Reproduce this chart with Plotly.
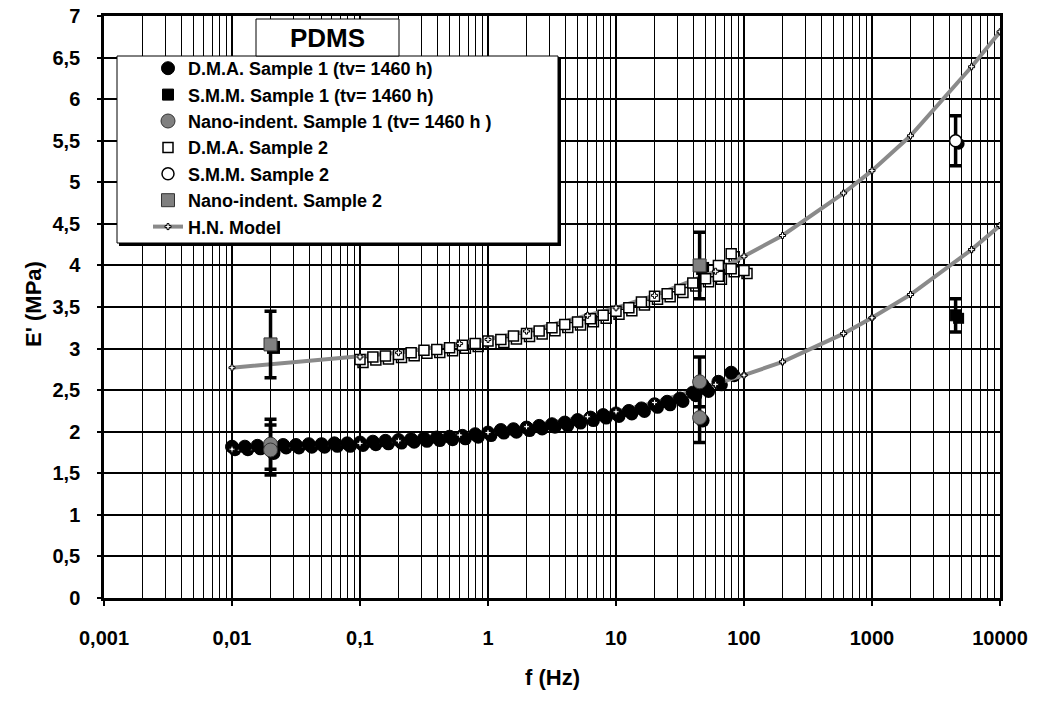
import plotly.graph_objects as go

# ---------------- data ----------------
# D.M.A. sample 1 (tv = 1460 h)
freq_dma1 = [0.01, 0.0126, 0.0158, 0.02, 0.0251, 0.0316, 0.0398, 0.0501, 0.0631, 0.0794,
             0.1, 0.126, 0.158, 0.2, 0.251, 0.316, 0.398, 0.501, 0.631, 0.794,
             1, 1.26, 1.58, 2, 2.51, 3.16, 3.98, 5.01, 6.31, 7.94,
             10, 12.6, 15.8, 20, 25.1, 31.6, 39.8, 50.1, 63.1, 79.4]
E_dma1 = [1.82, 1.82, 1.83, 1.83, 1.84, 1.84, 1.85, 1.85, 1.86, 1.86,
          1.87, 1.88, 1.89, 1.90, 1.91, 1.92, 1.93, 1.94, 1.95, 1.97,
          1.99, 2.02, 2.03, 2.05, 2.07, 2.09, 2.11, 2.14, 2.17, 2.20,
          2.22, 2.25, 2.28, 2.33, 2.36, 2.40, 2.47, 2.52, 2.60, 2.71]

# D.M.A. sample 2
freq_dma2 = [0.1, 0.126, 0.158, 0.2, 0.251, 0.316, 0.398, 0.501, 0.631, 0.794,
             1, 1.26, 1.58, 2, 2.51, 3.16, 3.98, 5.01, 6.31, 7.94,
             10, 12.6, 15.8, 20, 25.1, 31.6, 39.8, 50.1, 63.1, 79.4,
             100, 63.1, 79.4]
E_dma2 = [2.87, 2.90, 2.91, 2.93, 2.95, 2.98, 2.99, 3.01, 3.04, 3.06,
          3.09, 3.11, 3.15, 3.18, 3.21, 3.25, 3.29, 3.32, 3.36, 3.40,
          3.45, 3.49, 3.56, 3.63, 3.66, 3.71, 3.79, 3.84, 3.87, 3.96,
          3.94, 4.00, 4.14]

# S.M.M.
freq_smm1 = [4500]
E_smm1 = [3.40]
err_smm1 = [0.2]
freq_smm2 = [4500]
E_smm2 = [5.50]
err_smm2 = [0.3]

# Nano-indentation
freq_nano1 = [0.02, 0.02, 45, 45]
E_nano1 = [1.85, 1.78, 2.60, 2.17]
err_nano1 = [0.3, 0.3, 0.3, 0.3]
freq_nano2 = [0.02, 45]
E_nano2 = [3.05, 4.00]
err_nano2 = [0.4, 0.4]

# Havriliak-Negami model
freq_hn = [0.01, 0.1, 0.2, 0.6, 1, 2, 6, 10, 20, 60, 100, 200, 600, 1000, 2000, 6000, 10000]
E_hn_s1 = [1.79, 1.86, 1.89, 1.96, 1.99, 2.06, 2.18, 2.24, 2.35, 2.57, 2.68, 2.84, 3.18, 3.37, 3.65, 4.19, 4.48]
E_hn_s2 = [2.77, 2.90, 2.95, 3.06, 3.11, 3.21, 3.40, 3.49, 3.64, 3.93, 4.11, 4.36, 4.87, 5.14, 5.56, 6.39, 6.81]

# axis ticks
x_tickvals = [0.001, 0.01, 0.1, 1, 10, 100, 1000, 10000]
x_ticktext = ["0,001", "0,01", "0,1", "1", "10", "100", "1000", "10000"]
y_tickvals = [0, 0.5, 1, 1.5, 2, 2.5, 3, 3.5, 4, 4.5, 5, 5.5, 6, 6.5, 7]
y_ticktext = ["0", "0,5", "1", "1,5", "2", "2,5", "3", "3,5", "4", "4,5", "5", "5,5", "6", "6,5", "7"]

# ---------------- geometry ----------------
W, H = 1042, 702
ML, MT = 104, 16
PW, PH = 896, 582          # plot area in px
SH = 3                     # marker shadow offset in px
PAPER_W, PAPER_H = PW + SH, PH + SH

FONT = "Liberation Sans, Arial, sans-serif"
GRAY = "#8a8a8a"
NANO = "#808080"

fig = go.Figure()

# drop shadows under the markers, drawn on a copy of the axes shifted by SH px
shadow_sets = [
    (freq_dma1, E_dma1, "circle", 13, "black", 0),
    (freq_dma2, E_dma2, "square", 10, "white", 1.5),
    (freq_nano1, E_nano1, "circle", 14, "black", 0),
    (freq_nano2, E_nano2, "square", 13, "black", 0),
    (freq_smm1, E_smm1, "square", 11, "black", 0),
    (freq_smm2, E_smm2, "circle", 12, "black", 0),
]
for fx, fy, sym, size, fill, lw in shadow_sets:
    fig.add_trace(go.Scatter(
        x=fx, y=fy, mode="markers", xaxis="x", yaxis="y", showlegend=False,
        hoverinfo="skip",
        marker=dict(symbol=sym, size=size, color=fill, line=dict(color="black", width=lw)),
    ))

def err(arr):
    return dict(type="data", array=arr, visible=True, color="black", thickness=3.5, width=6)

# model curves (line underneath the markers)
fig.add_trace(go.Scatter(
    x=freq_hn, y=E_hn_s1, mode="lines+markers", name="H.N. Model", legendrank=7,
    xaxis="x2", yaxis="y2", line=dict(color=GRAY, width=4),
    marker=dict(symbol="cross", size=5, color="white", line=dict(color="black", width=1)),
))
fig.add_trace(go.Scatter(
    x=freq_hn, y=E_hn_s2, mode="lines", showlegend=False,
    xaxis="x2", yaxis="y2", line=dict(color=GRAY, width=4),
))

fig.add_trace(go.Scatter(
    x=freq_dma1, y=E_dma1, mode="markers", name="D.M.A. Sample 1 (tv= 1460 h)", legendrank=1,
    xaxis="x2", yaxis="y2",
    marker=dict(symbol="circle", size=13, color="black", line=dict(color="black", width=1)),
))
fig.add_trace(go.Scatter(
    x=freq_smm1, y=E_smm1, mode="markers", name="S.M.M. Sample 1 (tv= 1460 h)", legendrank=2,
    xaxis="x2", yaxis="y2", error_y=err(err_smm1),
    marker=dict(symbol="square", size=11, color="black", line=dict(color="black", width=1)),
))
fig.add_trace(go.Scatter(
    x=freq_nano1, y=E_nano1, mode="markers", name="Nano-indent. Sample 1 (tv= 1460 h )", legendrank=3,
    xaxis="x2", yaxis="y2", error_y=err(err_nano1),
    marker=dict(symbol="circle", size=14, color=NANO, line=dict(color="#333333", width=1)),
))
fig.add_trace(go.Scatter(
    x=freq_dma2, y=E_dma2, mode="markers", name="D.M.A. Sample 2", legendrank=4,
    xaxis="x2", yaxis="y2",
    marker=dict(symbol="square", size=10, color="white", line=dict(color="black", width=1.5)),
))
fig.add_trace(go.Scatter(
    x=freq_smm2, y=E_smm2, mode="markers", name="S.M.M. Sample 2", legendrank=5,
    xaxis="x2", yaxis="y2", error_y=err(err_smm2),
    marker=dict(symbol="circle", size=12, color="white", line=dict(color="black", width=1.5)),
))
fig.add_trace(go.Scatter(
    x=freq_nano2, y=E_nano2, mode="markers", name="Nano-indent. Sample 2", legendrank=6,
    xaxis="x2", yaxis="y2", error_y=err(err_nano2),
    marker=dict(symbol="square", size=13, color=NANO, line=dict(color="#333333", width=1)),
))

# model evaluation points on top of everything
for ev in (E_hn_s1, E_hn_s2):
    fig.add_trace(go.Scatter(
        x=freq_hn, y=ev, mode="markers", showlegend=False, hoverinfo="skip",
        xaxis="x2", yaxis="y2",
        marker=dict(symbol="cross", size=5, color="white", line=dict(color="black", width=1)),
    ))

tickfont = dict(family=FONT, size=20, color="black", weight="bold")

fig.update_layout(
    width=W, height=H,
    margin=dict(l=ML, r=W - ML - PAPER_W, t=MT, b=H - MT - PAPER_H, autoexpand=False),
    paper_bgcolor="white", plot_bgcolor="rgba(0,0,0,0)",
    showlegend=True,
    xaxis=dict(type="log", range=[-3, 4], domain=[SH / PAPER_W, 1], anchor="y", visible=False),
    yaxis=dict(range=[0, 7], domain=[0, PH / PAPER_H], anchor="x", visible=False),
    xaxis2=dict(
        type="log", range=[-3, 4], domain=[0, PW / PAPER_W], anchor="y2",
        tickmode="array", tickvals=x_tickvals, ticktext=x_ticktext,
        showgrid=True, gridcolor="black", gridwidth=2,
        minor=dict(dtick="D1", showgrid=True, gridcolor="black", gridwidth=1, ticks=""),
        ticks="outside", ticklen=5, tickwidth=2, tickcolor="black",
        showline=True, linecolor="black", linewidth=2.5, mirror=True,
        tickfont=tickfont, ticklabelstandoff=15, zeroline=False,
    ),
    yaxis2=dict(
        range=[0, 7], domain=[SH / PAPER_H, 1], anchor="x2",
        tickmode="array", tickvals=y_tickvals, ticktext=y_ticktext,
        showgrid=True, gridcolor="black", gridwidth=1.5,
        ticks="outside", ticklen=4, tickwidth=1.5, tickcolor="black",
        showline=True, linecolor="black", linewidth=2.5, mirror=True,
        tickfont=tickfont, ticklabelstandoff=13, zeroline=False,
    ),
    legend=dict(
        x=(148 - ML) / PAPER_W, y=1 - (50 - MT) / PAPER_H, xanchor="left", yanchor="top",
        bgcolor="rgba(0,0,0,0)", borderwidth=0,
        font=dict(family=FONT, size=18, color="black", weight="bold"),
        traceorder="normal",
    ),
)

def px_x(p):
    return (p - ML) / PW

def px_y(p):
    return (MT + PH - p) / PH

# legend frame (with a small drop shadow) and the title box
fig.add_shape(type="rect", xref="x2 domain", yref="y2 domain", layer="above",
              x0=px_x(119), x1=px_x(561), y0=px_y(246), y1=px_y(58),
              fillcolor="black", line=dict(width=0))
fig.add_shape(type="rect", xref="x2 domain", yref="y2 domain", layer="above",
              x0=px_x(117), x1=px_x(558), y0=px_y(243), y1=px_y(56),
              fillcolor="white", line=dict(color="black", width=1))
fig.add_shape(type="rect", xref="x2 domain", yref="y2 domain", layer="above",
              x0=px_x(256), x1=px_x(399), y0=px_y(56), y1=px_y(19),
              fillcolor="white", line=dict(color="black", width=1))
fig.add_annotation(xref="x2 domain", yref="y2 domain", x=px_x(327.5), y=px_y(38),
                   xanchor="center", yanchor="middle",
                   text="PDMS", showarrow=False,
                   font=dict(family=FONT, size=26, color="black", weight="bold"))

# axis titles
fig.add_annotation(xref="x2 domain", yref="y2 domain", x=0.5, y=px_y(677),
                   xanchor="center", yanchor="middle",
                   text="f (Hz)", showarrow=False,
                   font=dict(family=FONT, size=22, color="black", weight="bold"))
fig.add_annotation(xref="paper", yref="y2 domain", x=(33 - ML) / PAPER_W, y=px_y(304),
                   xanchor="center", yanchor="middle", text="E' (MPa)", textangle=-90,
                   showarrow=False,
                   font=dict(family=FONT, size=22, color="black", weight="bold"))

fig.write_html("out.html")
